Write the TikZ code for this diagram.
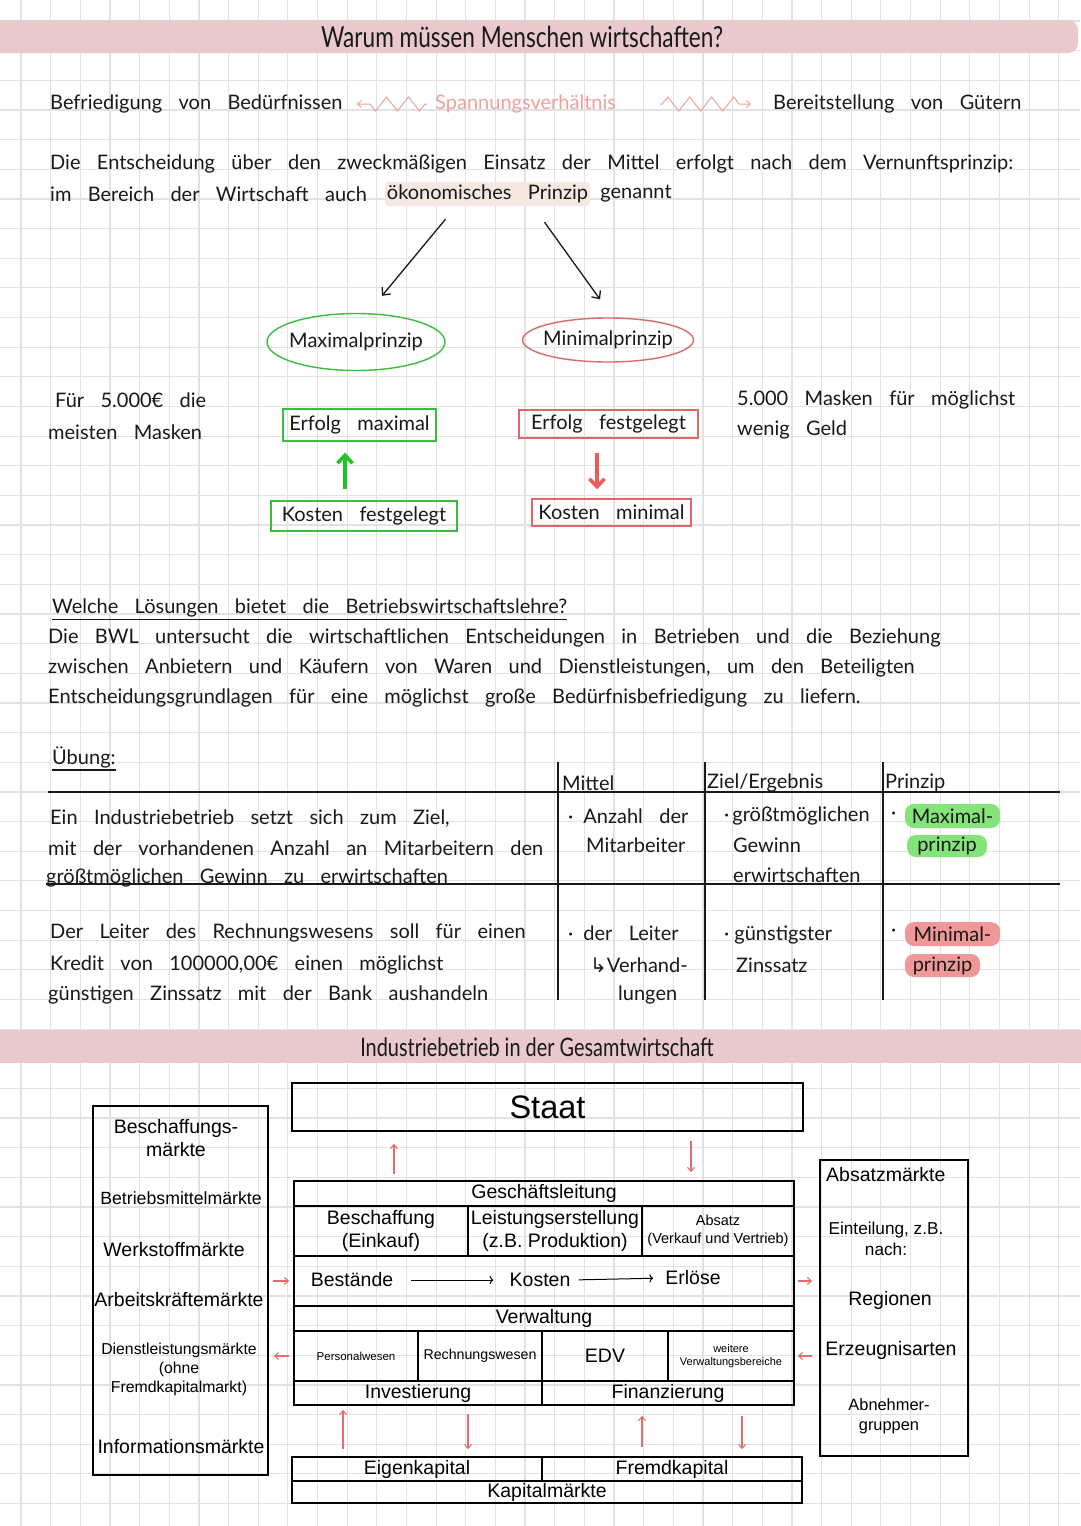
\documentclass[tikz,border=0pt]{standalone}
\usepackage{fontspec}
\setmainfont{Liberation Sans}
\newfontfamily\hand{Lato}[WordSpace=3.2]
\newfontfamily\titlefont{Lato}[FakeStretch=0.78]
\newfontfamily\symfont{DejaVu Sans}
\usetikzlibrary{positioning,shapes.geometric,arrows.meta,decorations.pathmorphing,calc}

\definecolor{ink}{RGB}{25,25,25}
\definecolor{gridc}{RGB}{226,226,226}
\definecolor{band}{RGB}{233,201,205}
\definecolor{hgreen}{RGB}{60,190,60}
\definecolor{hred}{RGB}{226,104,104}
\definecolor{markgreen}{RGB}{132,228,122}
\definecolor{markred}{RGB}{240,152,152}
\definecolor{beige}{RGB}{245,232,226}
\definecolor{pinktext}{RGB}{240,160,160}
\definecolor{arrred}{RGB}{228,110,110}
\definecolor{fatgreen}{RGB}{30,195,40}
\definecolor{fatred}{RGB}{236,90,90}

\begin{document}
\begin{tikzpicture}[x=1pt, y=-1pt,
    hw/.style={font=\hand\fontsize{20}{22}\selectfont, text=ink, inner sep=0pt, anchor=west},
    hwbox/.style={draw=#1, line width=1.3pt, font=\hand\fontsize{20}{22}\selectfont, text=ink, inner sep=0pt},
    hwell/.style={ellipse, draw=#1, line width=1.4pt, font=\hand\fontsize{20}{22}\selectfont, text=ink, inner ysep=0pt, inner xsep=-14pt},
    hl/.style={fill=#1, rounded corners=9pt, font=\hand\fontsize{20}{22}\selectfont, text=ink, inner sep=0pt},
    hwarr/.style={draw=ink, line width=1.3pt, -{Straight Barb[length=6pt,width=11pt]}},
    fatarr/.style={draw=#1, line width=3.5pt, -{Straight Barb[length=8pt,width=15pt]}},
    zz/.style={draw=pinktext, line width=1pt, decorate,
      decoration={zigzag, amplitude=7pt, segment length=22pt, pre length=2pt, post length=7pt},
      -{Straight Barb[length=4pt,width=7pt]}},
    cell/.style={draw, line width=1.6pt, inner sep=0pt, align=center, font=\fontsize{19.5}{23}\selectfont},
    mtext/.style={inner sep=0pt, align=center, font=\fontsize{19.5}{23}\selectfont},
    redarr/.style={draw=arrred, line width=1.1pt, -{Straight Barb[length=4pt,width=7pt]}},
    gridline/.style={draw=gridc, line width=1.2pt},
  ]
  \useasboundingbox (0,0) rectangle (1080,1526);
  \fill[white] (0,0) rectangle (1080,1526);

  % squared paper
  \foreach \i in {0,...,35}
    \draw[gridline] (21+29.65*\i,0) -- (21+29.65*\i,1526);
  \foreach \i in {0,...,50}
    \draw[gridline] (0,21+29.65*\i) -- (1080,21+29.65*\i);

  % heading
  \fill[band, rounded corners=10pt] (-12,20) rectangle (1078,53);
  \node[font=\titlefont\fontsize{29}{32}\selectfont, text=ink] (title) at (522,37) {Warum müssen Menschen wirtschaften?};

  % Spannungsverhaeltnis
  \node[hw] (befr) at (50,104) {Befriedigung von Bedürfnissen};
  \node[hw, text=pinktext] (spann) at (435,104) {Spannungsverhältnis};
  \node[hw] (bereit) at (773,104) {Bereitstellung von Gütern};
  \draw[zz] ($(spann.west)+(-8,0)$) -- ($(befr.east)+(14,0)$);
  \draw[zz] ($(spann.east)+(44,0)$) -- ($(bereit.west)+(-22,0)$);

  \node[hw] (entsch) at (50,164) {Die Entscheidung über den zweckmäßigen Einsatz der Mittel erfolgt nach dem Vernunftsprinzip:};
  \node[hw] (bereich) at (50,194) {im Bereich der Wirtschaft auch};
  \node[hl=beige, minimum width=205pt, minimum height=24pt, rounded corners=4pt] (oekon) at (487.5,194) {ökonomisches Prinzip};
  \node[hw, right=10pt of oekon] (genannt) {genannt};

  % the two principles
  \node[hwell=hgreen, minimum width=178pt, minimum height=57pt] (maxp) at (356,342) {Maximalprinzip};
  \node[hwell=hred, minimum width=171pt, minimum height=44pt] (minp) at (608,340) {Minimalprinzip};
  \draw[hwarr] ($(oekon.south)+(-42,13)$) -- ($(maxp.north)+(26,-17)$);
  \draw[hwarr] ($(oekon.south)+(57,16)$) -- ($(minp.north)+(-8,-18)$);

  \node[hw] (fuer1) at (55,400) {Für 5.000€ die};
  \node[hw] (fuer2) at (48,432) {meisten Masken};
  \node[hw] (mask1) at (737,400) {5.000 Masken für möglichst};
  \node[hw] (mask2) at (737,430) {wenig Geld};

  \node[hwbox=hgreen, minimum width=153pt, minimum height=32pt] (erfmax) at (359.5,425) {Erfolg maximal};
  \node[hwbox=hgreen, minimum width=186pt, minimum height=30pt] (kosfest) at (364,516) {Kosten festgelegt};
  \node[hwbox=hred, minimum width=179pt, minimum height=28pt] (erffest) at (608.5,424) {Erfolg festgelegt};
  \node[hwbox=hred, minimum width=159pt, minimum height=27pt] (kosmin) at (611.5,512.5) {Kosten minimal};
  \draw[fatarr=fatgreen] ($(kosfest.north)+(-19,-11)$) -- ($(erfmax.south)+(-14.5,11)$);
  \draw[fatarr=fatred] ($(erffest.south)+(-11.5,14)$) -- ($(kosmin.north)+(-14.5,-9)$);

  % BWL
  \node[hw] (welche) at (52,608) {Welche Lösungen bietet die Betriebswirtschaftslehre?};
  \draw[ink, line width=1.3pt] ([yshift=-2pt]welche.south west) -- ([yshift=-2pt]welche.south east);
  \node[hw] (bwl1) at (48,638) {Die BWL untersucht die wirtschaftlichen Entscheidungen in Betrieben und die Beziehung};
  \node[hw] (bwl2) at (48,668) {zwischen Anbietern und Käufern von Waren und Dienstleistungen, um den Beteiligten};
  \node[hw] (bwl3) at (48,698) {Entscheidungsgrundlagen für eine möglichst große Bedürfnisbefriedigung zu liefern.};

  % Uebung
  \node[hw] (uebung) at (52,757) {Übung:};
  \draw[ink, line width=1.3pt] ([yshift=-2pt]uebung.south west) -- ([yshift=-2pt]uebung.south east);
  \draw[ink, line width=1.3pt] (48,792) -- (1060,792);
  \draw[ink, line width=1.3pt] (46,884) -- (1060,884);
  \foreach \x in {558,705,883}
    \draw[ink, line width=1.3pt] (\x,762) -- (\x,1000);
  \node[hw] (mittel) at (562,783) {Mittel};
  \node[hw] (ziel) at (707,783) {Ziel/Ergebnis};
  \node[hw] (prinz) at (885,783) {Prinzip};

  \node[hw] (ra1) at (50,818) {Ein Industriebetrieb setzt sich zum Ziel,};
  \node[hw] (ra2) at (48,848) {mit der vorhandenen Anzahl an Mitarbeitern den};
  \node[hw] (ra3) at (46,878) {größtmöglichen Gewinn zu erwirtschaften};
  \node[hw] (ma1) at (568,816) {·\hspace{10pt}Anzahl der};
  \node[hw] (ma2) at (586,845) {Mitarbeiter};
  \node[hw] (za1) at (724,816) {·\hspace{3pt}größtmöglichen};
  \node[hw] (za2) at (733,845) {Gewinn};
  \node[hw] (za3) at (733,875) {erwirtschaften};
  \node[hw] (pa0) at (891,816) {·};
  \node[hl=markgreen, minimum width=95pt, minimum height=24pt] (pa1) at (952.5,816) {Maximal-};
  \node[hl=markgreen, minimum width=80pt, minimum height=22pt] (pa2) at (947,846) {prinzip};

  \node[hw] (rb1) at (50,933) {Der Leiter des Rechnungswesens soll für einen};
  \node[hw] (rb2) at (50,965) {Kredit von 100000,00€ einen möglichst};
  \node[hw] (rb3) at (48,995) {günstigen Zinssatz mit der Bank aushandeln};
  \node[hw] (mb1) at (568,933) {·\hspace{10pt}der Leiter};
  \node[hw] (mb2) at (590,965) {{\symfont ↳}Verhand-};
  \node[hw] (mb3) at (618,995) {lungen};
  \node[hw] (zb1) at (724,935) {·\hspace{5pt}günstigster};
  \node[hw] (zb2) at (736,965) {Zinssatz};
  \node[hw] (pb0) at (891,933) {·};
  \node[hl=markred, minimum width=95pt, minimum height=24pt] (pb1) at (952.5,934) {Minimal-};
  \node[hl=markred, minimum width=75pt, minimum height=23pt] (pb2) at (942.5,965.5) {prinzip};

  % second heading
  \fill[band] (-12,1030) rectangle (1092,1063);
  \node[font=\titlefont\fontsize{25.5}{28}\selectfont, text=ink] (title2) at (537,1047) {Industriebetrieb in der Gesamtwirtschaft};

  % Staat
  \node[cell, minimum width=511pt, minimum height=48pt, font=\fontsize{32.5}{36}\selectfont] (staat) at (547.5,1107) {Staat};

  % Betrieb
  \node[cell, minimum width=500pt, minimum height=25pt] (gl) at (544,1193.5) {Geschäftsleitung};
  \node[cell, minimum width=174pt, minimum height=50pt] (besch) at (381,1231) {Beschaffung\\(Einkauf)};
  \node[cell, minimum width=174pt, minimum height=50pt] (leist) at (555,1231) {Leistungserstellung\\(z.B. Produktion)};
  \node[cell, minimum width=152pt, minimum height=50pt, font=\fontsize{14.5}{18}\selectfont] (absatz) at (718,1231) {Absatz\\(Verkauf und Vertrieb)};
  \node[cell, minimum width=500pt, minimum height=50pt] (flow) at (544,1281) {};
  \node[mtext] (bestand) at (352,1280) {Bestände};
  \node[mtext] (kosten) at (540,1280) {Kosten};
  \node[mtext] (erloese) at (693,1278) {Erlöse};
  \draw[line width=1pt, ->, shorten <=18pt, shorten >=16pt] (bestand.east) -- (kosten.west);
  \draw[line width=1pt, ->, shorten <=8pt, shorten >=12pt] (kosten.east) -- (erloese.west);
  \node[cell, minimum width=500pt, minimum height=25pt] (verw) at (544,1318.5) {Verwaltung};
  \node[cell, minimum width=124pt, minimum height=50pt, font=\fontsize{11.5}{14}\selectfont] (pers) at (356,1356) {Personalwesen};
  \node[cell, minimum width=124pt, minimum height=50pt, font=\fontsize{14.2}{17}\selectfont] (rech) at (480,1356) {Rechnungswesen};
  \node[cell, minimum width=126pt, minimum height=50pt] (edv) at (605,1356) {EDV};
  \node[cell, minimum width=126pt, minimum height=50pt, font=\fontsize{11}{13}\selectfont] (weitere) at (731,1356) {weitere\\Verwaltungsbereiche};
  \node[cell, minimum width=248pt, minimum height=24pt] (invest) at (418,1393) {Investierung};
  \node[cell, minimum width=252pt, minimum height=24pt] (finanz) at (668,1393) {Finanzierung};

  % Kapitalmaerkte
  \node[cell, minimum width=250pt, minimum height=24pt] (ek) at (417,1469) {Eigenkapital};
  \node[cell, minimum width=260pt, minimum height=24pt] (fk) at (672,1469) {Fremdkapital};
  \node[cell, minimum width=510pt, minimum height=22pt] (kapm) at (547,1492) {Kapitalmärkte};

  % Beschaffungsmaerkte
  \node[cell, minimum width=175pt, minimum height=369pt] (mleft) at (180.5,1290.5) {};
  \node[mtext] (bm0) at (176,1138) {Beschaffungs-\\märkte};
  \node[mtext, font=\fontsize{17.7}{21}\selectfont] (bm1) at (181,1198) {Betriebsmittelmärkte};
  \node[mtext] (bm2) at (174,1250) {Werkstoffmärkte};
  \node[mtext] (bm3) at (179,1300) {Arbeitskräftemärkte};
  \node[mtext, font=\fontsize{15.8}{19}\selectfont] (bm4) at (179,1369) {Dienstleistungsmärkte\\(ohne\\Fremdkapitalmarkt)};
  \node[mtext] (bm5) at (181,1447) {Informationsmärkte};

  % Absatzmaerkte
  \node[cell, minimum width=148pt, minimum height=296pt] (mright) at (894,1308) {};
  \node[mtext, anchor=west] (am0) at (826,1175) {Absatzmärkte};
  \node[mtext, font=\fontsize{17.2}{21}\selectfont] (am1) at (886,1239) {Einteilung, z.B.\\nach:};
  \node[mtext] (am2) at (890,1300) {Regionen};
  \node[mtext] (am3) at (891,1350) {Erzeugnisarten};
  \node[mtext, font=\fontsize{16.4}{20}\selectfont] (am4) at (889,1416) {Abnehmer-\\gruppen};

  % red arrows
  \coordinate (xa) at (394,0);
  \coordinate (xb) at (691,0);
  \coordinate (xc) at (343,0);
  \coordinate (xd) at (468,0);
  \coordinate (xe) at (642,0);
  \coordinate (xf) at (742,0);
  \draw[redarr, shorten <=6pt, shorten >=12pt] (gl.north -| xa) -- (staat.south -| xa);
  \draw[redarr, shorten <=9pt, shorten >=8pt] (staat.south -| xb) -- (gl.north -| xb);
  \draw[redarr, shorten <=7pt, shorten >=4pt] (ek.north -| xc) -- (invest.south -| xc);
  \draw[redarr, shorten <=8pt, shorten >=7pt] (invest.south -| xd) -- (ek.north -| xd);
  \draw[redarr, shorten <=9pt, shorten >=10pt] (fk.north -| xe) -- (finanz.south -| xe);
  \draw[redarr, shorten <=10pt, shorten >=7pt] (finanz.south -| xf) -- (fk.north -| xf);
  \draw[redarr, shorten <=4pt, shorten >=4pt] (mleft.east |- flow.west) -- (flow.west);
  \draw[redarr, shorten <=4pt, shorten >=5pt] (pers.west) -- (mleft.east |- pers.west);
  \draw[redarr, shorten <=3pt, shorten >=7pt] (flow.east) -- (mright.west |- flow.east);
  \draw[redarr, shorten <=7pt, shorten >=3pt] (mright.west |- weitere.east) -- (weitere.east);
\end{tikzpicture}
\end{document}
